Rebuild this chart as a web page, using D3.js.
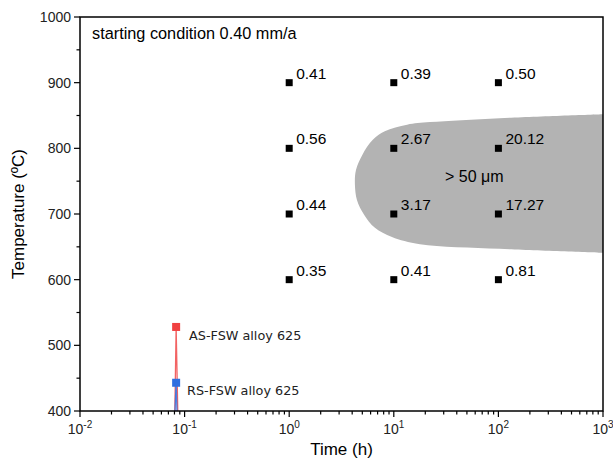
<!DOCTYPE html>
<html><head><meta charset="utf-8">
<script src="https://cdn.jsdelivr.net/npm/d3@7"></script>
<style>body{margin:0;background:#fff}svg{display:block}</style>
</head><body>
<svg id="chart" width="613" height="468"></svg>
<script>
// ---- data ----
const times = [1, 10, 100];
const temps = [900, 800, 700, 600];
const grainSizes = [ // rows by temperature, columns by time
  [0.41, 0.39, 0.50],
  [0.56, 2.67, 20.12],
  [0.44, 3.17, 17.27],
  [0.35, 0.41, 0.81]
];
const gradeLabels = [
  ["0.41", "0.39", "0.50"],
  ["0.56", "2.67", "20.12"],
  ["0.44", "3.17", "17.27"],
  ["0.35", "0.41", "0.81"]
];
// boundary of the "> 50 µm" region (time h, temperature °C)
const regionTime = [1000, 103, 22.2, 13.4, 8.2, 6.3, 5.0, 4.35, 4.25, 4.45, 5.2, 6.6, 9.6, 17.8, 103, 1000];
const regionTemp = [852, 846, 840, 836, 826, 813, 790, 767, 744, 721, 699, 679, 665, 654, 647, 641];
// FSW spikes
const asTime = [0.080, 0.083, 0.087];
const asTemp = [360, 528, 360];
const rsTime = [0.079, 0.083, 0.086];
const rsTemp = [360, 443, 360];
const xTickValues = [0.01, 0.1, 1, 10, 100, 1000];
const xTickExp = ["-2", "-1", "0", "1", "2", "3"];
const yTickValues = [400, 500, 600, 700, 800, 900, 1000];

// ---- drawing ----
const svg = d3.select("#chart");
const L = 80, R = 603, T = 17, B = 411;
const x = d3.scaleLog().domain([0.01, 1000]).range([L, R]);
const y = d3.scaleLinear().domain([400, 1000]).range([B, T]);
const font = "Liberation Sans, Arial, sans-serif";
const font2 = "DejaVu Sans, Verdana, sans-serif";

svg.append("defs").append("clipPath").attr("id", "clip")
  .append("rect").attr("x", L).attr("y", T).attr("width", R - L).attr("height", B - T);
const plot = svg.append("g").attr("clip-path", "url(#clip)");

// grey region
const pts = regionTime.map((t, i) => [x(t), y(regionTemp[i])]);
const line = d3.line().curve(d3.curveCatmullRom.alpha(0.5));
plot.append("path").attr("d", line(pts) + "Z").attr("fill", "#b3b3b3");

// spikes
const lineXY = d3.line().x(d => x(d[0])).y(d => y(d[1]));
const asPts = asTime.map((t, i) => [t, asTemp[i]]);
const rsPts = rsTime.map((t, i) => [t, rsTemp[i]]);
plot.append("path").attr("d", lineXY(asPts)).attr("fill", "none").attr("stroke", "#f04848").attr("stroke-width", 1.3).attr("opacity", 0.85);
plot.append("path").attr("d", lineXY(rsPts)).attr("fill", "none").attr("stroke", "#2f6fe0").attr("stroke-width", 1.3).attr("opacity", 0.85);
plot.append("rect").attr("x", x(asTime[1]) - 4).attr("y", y(asTemp[1]) - 4).attr("width", 8).attr("height", 8).attr("fill", "#f04040");
plot.append("rect").attr("x", x(rsTime[1]) - 4).attr("y", y(rsTemp[1]) - 4).attr("width", 8).attr("height", 8).attr("fill", "#2f6fe0");

svg.append("text").attr("x", 189).attr("y", 340)
  .attr("font-family", font2).attr("font-size", 12.8).attr("fill", "#222").text("AS-FSW alloy 625");
svg.append("text").attr("x", 187).attr("y", 395)
  .attr("font-family", font2).attr("font-size", 12.8).attr("fill", "#222").text("RS-FSW alloy 625");

// squares and labels
temps.forEach((tp, r) => {
  times.forEach((tm, c) => {
    const cx = x(tm), cy = y(tp);
    svg.append("rect").attr("x", cx - 3.5).attr("y", cy - 3.5).attr("width", 7).attr("height", 7).attr("fill", "#000");
    svg.append("text").attr("x", cx + 7).attr("y", cy - 4)
      .attr("font-family", font).attr("font-size", 15.5).attr("fill", "#000").text(gradeLabels[r][c]);
  });
});

svg.append("text").attr("x", 445).attr("y", 182).attr("font-family", font).attr("font-size", 16).attr("fill", "#000").text("> 50 μm");
svg.append("text").attr("x", 92).attr("y", 39).attr("font-family", font).attr("font-size", 16.3).attr("fill", "#000").text("starting condition 0.40 mm/a");

// frame
svg.append("rect").attr("x", L).attr("y", T).attr("width", R - L).attr("height", B - T)
  .attr("fill", "none").attr("stroke", "#000").attr("stroke-width", 1.5);

// x ticks
const minorX = [];
for (let e = -2; e < 3; e++) for (let m = 2; m <= 9; m++) minorX.push(m * Math.pow(10, e));
const ax = svg.append("g").attr("stroke", "#000").attr("stroke-width", 1.2);
xTickValues.forEach(v => ax.append("line").attr("x1", x(v)).attr("x2", x(v)).attr("y1", B).attr("y2", B + 6));
minorX.forEach(v => ax.append("line").attr("x1", x(v)).attr("x2", x(v)).attr("y1", B).attr("y2", B + 3.5));
xTickValues.forEach((v, i) => {
  const t = svg.append("text").attr("x", x(v)).attr("y", B + 23).attr("text-anchor", "middle")
    .attr("font-family", font).attr("font-size", 14).attr("fill", "#222");
  t.append("tspan").text("10");
  t.append("tspan").attr("dy", -6).attr("font-size", 10).text(xTickExp[i]);
});

// y ticks
yTickValues.forEach(v => {
  ax.append("line").attr("x1", L).attr("x2", L - 6).attr("y1", y(v)).attr("y2", y(v));
  svg.append("text").attr("x", L - 9).attr("y", y(v) + 5).attr("text-anchor", "end")
    .attr("font-family", font).attr("font-size", 14).attr("fill", "#222").text(v);
});
for (let v = 450; v < 1000; v += 100) ax.append("line").attr("x1", L).attr("x2", L - 3.5).attr("y1", y(v)).attr("y2", y(v));

// axis titles
svg.append("text").attr("x", (L + R) / 2).attr("y", 455).attr("text-anchor", "middle")
  .attr("font-family", font).attr("font-size", 17).attr("fill", "#000").text("Time (h)");
svg.append("text").attr("transform", `translate(24,${(T + B) / 2}) rotate(-90)`).attr("text-anchor", "middle")
  .attr("font-family", font).attr("font-size", 17).attr("fill", "#000").text("Temperature (ºC)");
</script>
</body></html>
